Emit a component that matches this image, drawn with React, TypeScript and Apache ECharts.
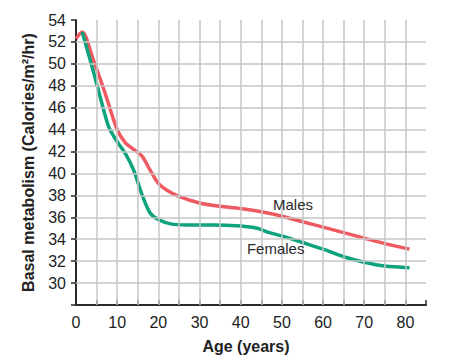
import React, { useEffect, useRef } from "react";
import * as echarts from "echarts";

const maleAges = [0, 1.5, 4, 7, 10, 12, 14, 16, 18, 20, 22, 25, 30, 35, 40, 45, 50, 55, 60, 65, 70, 75, 81];
const maleValues = [52.3, 52.9, 50.6, 47.4, 44.0, 42.8, 42.2, 41.6, 40.3, 39.1, 38.5, 37.9, 37.3, 37.0, 36.8, 36.5, 36.1, 35.6, 35.1, 34.6, 34.1, 33.6, 33.1];

const femaleAges = [1.5, 4, 6, 8, 10, 12, 14, 16, 18, 20, 23, 27, 33, 40, 44, 47, 50, 55, 60, 65, 70, 75, 81];
const femaleValues = [52.9, 49.6, 46.8, 44.2, 42.9, 41.8, 40.3, 38.1, 36.4, 35.8, 35.4, 35.3, 35.3, 35.2, 35.0, 34.6, 34.3, 33.7, 33.1, 32.4, 31.9, 31.55, 31.4];

const verticalGrid = [5, 10, 15, 20, 25, 30, 35, 40, 45, 50, 55, 60, 65, 70, 75, 80];
const horizontalGrid = [30, 32, 34, 36, 38, 40, 42, 44, 46, 48, 50, 52];

const maleLabel = { name: "Males", age: 52.7, value: 37.2 };
const femaleLabel = { name: "Females", age: 48.5, value: 33.2 };

const FONT = "Liberation Sans, Arial, Helvetica, sans-serif";
const RED = "#EF5A62";
const GREEN = "#0DA37C";
const GRID = "#C6C6C6";
const AXIS = "#2a2a2a";

export default function App() {
  const ref = useRef<HTMLDivElement>(null);
  useEffect(() => {
    if (!ref.current) return;
    const chart = echarts.init(ref.current, undefined, { renderer: "svg" });
    const labelPoint = (l: { name: string; age: number; value: number }) => ({
      coord: [l.age, l.value],
      symbol: "circle",
      symbolSize: 0,
      label: {
        show: true,
        position: "inside",
        formatter: l.name,
        color: "#2a2a2a",
        fontSize: 15,
        fontFamily: FONT,
      },
    });
    chart.setOption({
      animation: false,
      backgroundColor: "#ffffff",
      grid: { left: 76, right: 27, top: 20, bottom: 55, containLabel: false },
      xAxis: {
        type: "value",
        min: 0,
        max: 85,
        interval: 5,
        name: "Age (years)",
        nameLocation: "middle",
        nameGap: 33,
        nameTextStyle: { fontFamily: FONT, fontSize: 16, fontWeight: "bold", color: "#222", padding: [0, 10, 0, 0] },
        axisLine: { show: true, lineStyle: { color: AXIS, width: 2 } },
        axisTick: { show: true, inside: true, length: 5, lineStyle: { color: AXIS, width: 1.5 } },
        axisLabel: {
          fontFamily: FONT,
          fontSize: 16,
          color: "#222",
          margin: 9,
          formatter: (v: number) => (v % 10 === 0 && v <= 80 ? String(v) : ""),
        },
        splitLine: { show: false },
      },
      yAxis: {
        type: "value",
        min: 28,
        max: 54,
        interval: 2,
        name: "Basal metabolism (Calories/m²/hr)",
        nameLocation: "middle",
        nameGap: 40,
        nameTextStyle: { fontFamily: FONT, fontSize: 16, fontWeight: "bold", color: "#222" },
        axisLine: { show: true, lineStyle: { color: AXIS, width: 2 } },
        axisTick: { show: true, inside: false, length: 5, lineStyle: { color: AXIS, width: 1.5 } },
        axisLabel: {
          fontFamily: FONT,
          fontSize: 16,
          color: "#222",
          margin: 10,
          formatter: (v: number) => (v === 28 ? "" : String(v)),
        },
        splitLine: { show: false },
      },
      series: [
        {
          type: "line",
          name: "grid",
          data: [],
          silent: true,
          z: 1,
          markLine: {
            silent: true,
            symbol: "none",
            animation: false,
            label: { show: false },
            lineStyle: { color: GRID, width: 1.5, type: "solid" },
            data: [
              ...verticalGrid.map((x) => ({ xAxis: x })),
              ...horizontalGrid.map((y) => ({ yAxis: y })),
            ],
          },
        },
        {
          type: "line",
          name: "Females",
          data: femaleAges.map((a, i) => [a, femaleValues[i]]),
          smooth: 0.3,
          showSymbol: false,
          clip: false,
          z: 3,
          lineStyle: { color: GREEN, width: 3.5 },
          itemStyle: { color: GREEN },
          markPoint: { silent: true, data: [labelPoint(femaleLabel)] },
        },
        {
          type: "line",
          name: "Males",
          data: maleAges.map((a, i) => [a, maleValues[i]]),
          smooth: 0.3,
          showSymbol: false,
          clip: false,
          z: 2,
          lineStyle: { color: RED, width: 3.5 },
          itemStyle: { color: RED },
          markPoint: { silent: true, data: [labelPoint(maleLabel)] },
        },
      ],
    });
    return () => chart.dispose();
  }, []);
  return <div ref={ref} style={{ width: 453, height: 360, position: "absolute", left: 0, top: 0 }} />;
}
